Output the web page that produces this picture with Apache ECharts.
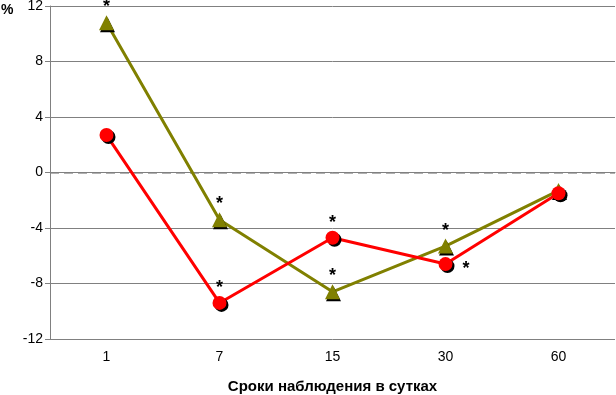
<!DOCTYPE html>
<html>
<head>
<meta charset="utf-8">
<script src="https://cdn.jsdelivr.net/npm/echarts@6/dist/echarts.min.js"></script>
<style>
  html, body { margin: 0; padding: 0; background: #fff; }
  #chart { width: 616px; height: 395px; }
</style>
</head>
<body>
<div id="chart"></div>
<script>
const days = ['1', '7', '15', '30', '60'];
const oliveValues = [10.8, -3.4, -8.6, -5.3, -1.3];
const redValues = [2.7, -9.4, -4.7, -6.6, -1.5];
// where the significance asterisk sits for each point ('' = none)
const oliveStars = ['top', 'top', 'top', 'top', ''];
const redStars = ['', 'top', 'top', 'right', ''];
const yTicks = [-12, -8, -4, 0, 4, 8, 12];

const gridColor = '#808080';
const zeroColor = '#b0b0b0';
const font = 'Liberation Sans, Arial, sans-serif';

function withStars(values, stars) {
  return values.map((v, i) => {
    const pos = stars[i];
    if (!pos) return { value: v, label: { show: false } };
    return {
      value: v,
      label: pos === 'right'
        ? { show: true, position: 'right', formatter: '*', distance: 10, offset: [0, 5] }
        : { show: true, position: 'top', formatter: '*', distance: -1 },
    };
  });
}

const yBase = {
  type: 'value',
  min: yTicks[0],
  max: yTicks[yTicks.length - 1],
  interval: 4,
};

const chart = echarts.init(document.getElementById('chart'));
chart.setOption({
  animation: false,
  backgroundColor: '#fff',
  grid: { left: 50, right: 1, top: 6, bottom: 56, outerBoundsMode: 'none', containLabel: false },
  graphic: [
    { type: 'text', left: 1, top: 3, style: { text: '%', font: 'bold 14px ' + font, fill: '#000' } },
  ],
  xAxis: {
    type: 'category',
    data: days,
    boundaryGap: true,
    name: 'Сроки наблюдения в сутках',
    nameLocation: 'middle',
    nameGap: 40,
    nameTextStyle: { fontFamily: font, fontWeight: 'bold', fontSize: 15, color: '#000' },
    axisLine: { show: true, lineStyle: { color: gridColor, width: 1 } },
    axisTick: { show: false },
    axisLabel: { fontFamily: font, fontSize: 14, color: '#000', margin: 11 },
  },
  yAxis: [
    {
      ...yBase,
      axisLine: { show: true, lineStyle: { color: gridColor, width: 1 } },
      axisTick: { show: true, length: 5, lineStyle: { color: gridColor } },
      axisLabel: { fontFamily: font, fontSize: 14, color: '#000', margin: 7 },
      splitLine: {
        show: true,
        lineStyle: {
          width: 1,
          color: yTicks.map(t => (t === 0 ? 'rgba(0,0,0,0)' : gridColor)),
        },
      },
    },
    {
      // second copy of the scale, only for the dashed zero line
      ...yBase,
      position: 'left',
      axisLine: { show: false },
      axisTick: { show: false },
      axisLabel: { show: false },
      splitLine: {
        show: true,
        lineStyle: {
          width: 2,
          type: [9, 5],
          color: yTicks.map(t => (t === 0 ? zeroColor : 'rgba(0,0,0,0)')),
        },
      },
    },
  ],
  series: [
    {
      type: 'line',
      data: withStars(redValues, redStars),
      symbol: 'circle',
      symbolSize: 14,
      lineStyle: { color: '#ff0000', width: 3 },
      itemStyle: { color: '#ff0000', shadowColor: '#000', shadowOffsetX: 2, shadowOffsetY: 2, shadowBlur: 0 },
      label: { fontFamily: font, fontSize: 18, fontWeight: 'bold', color: '#000' },
      z: 3,
    },
    {
      type: 'line',
      data: withStars(oliveValues, oliveStars),
      symbol: 'triangle',
      symbolSize: 15,
      lineStyle: { color: '#808000', width: 3 },
      itemStyle: { color: '#808000', shadowColor: '#000', shadowOffsetX: 1, shadowOffsetY: 2, shadowBlur: 0 },
      label: { fontFamily: font, fontSize: 18, fontWeight: 'bold', color: '#000' },
      z: 2,
    },
  ],
});
</script>
</body>
</html>
